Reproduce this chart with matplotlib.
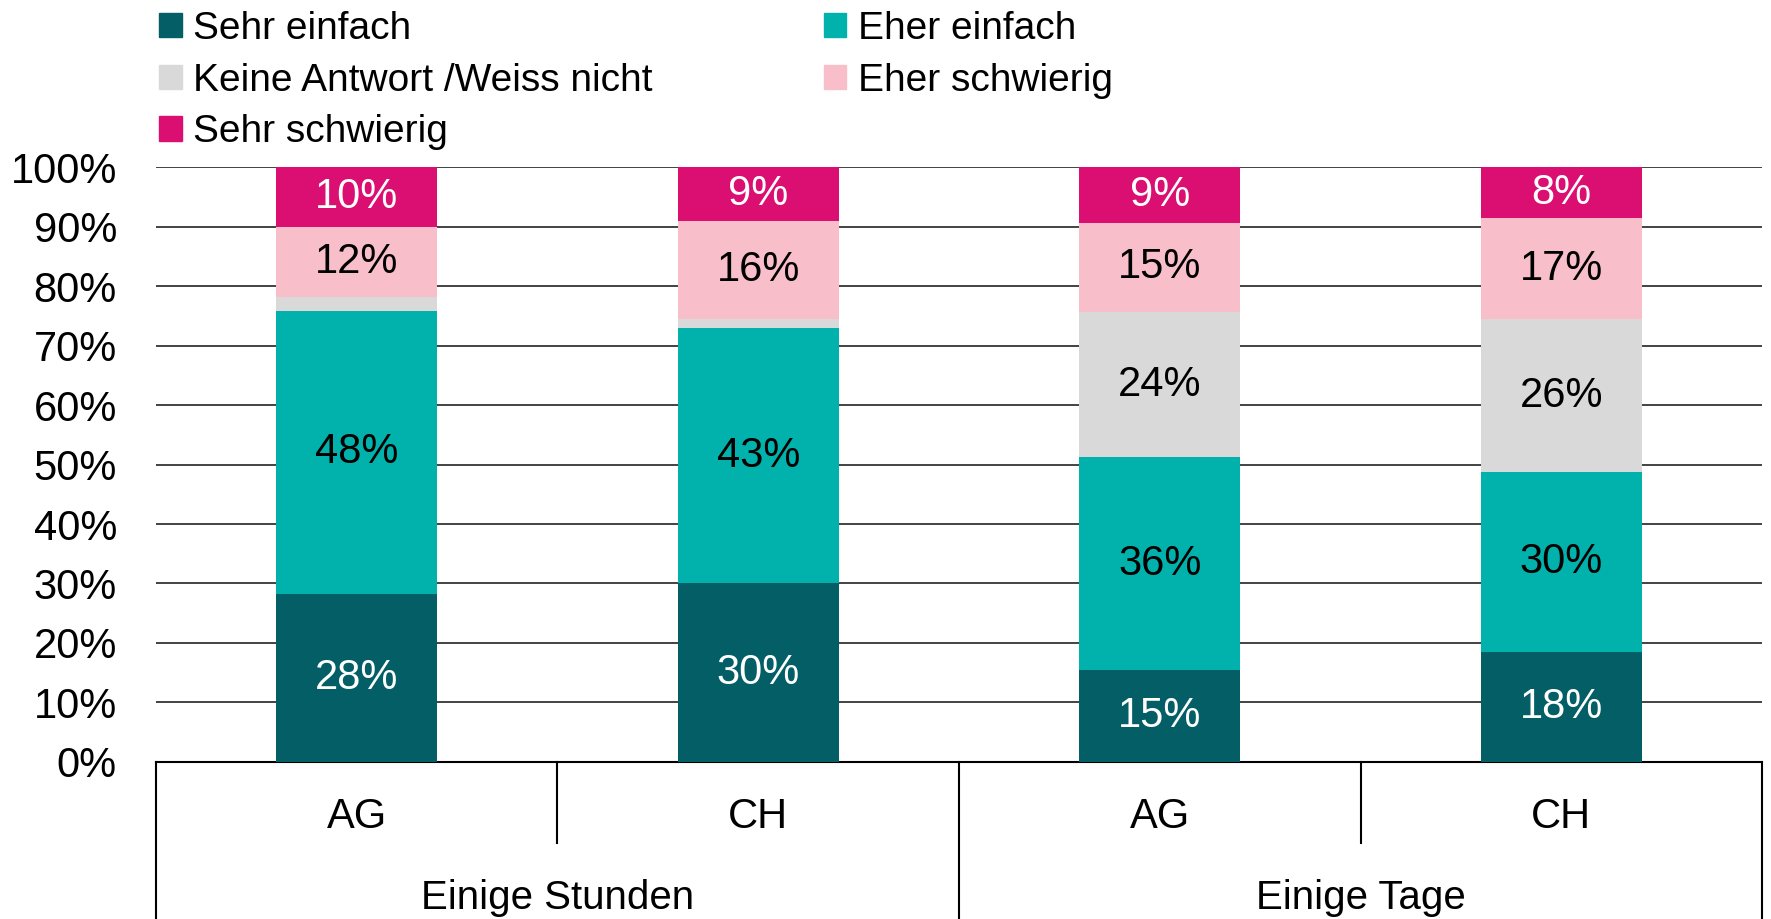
import numpy as np
import matplotlib.pyplot as plt
from matplotlib.patches import Patch
from matplotlib.transforms import blended_transform_factory

plt.rcParams['font.family'] = ['Liberation Sans', 'DejaVu Sans']

####################################################################################################
# Data (percent)

categories = ['AG', 'CH', 'AG', 'CH']
groups = ['Einige Stunden', 'Einige Tage']
series = ['Sehr einfach', 'Eher einfach', 'Keine Antwort /Weiss nicht', 'Eher schwierig', 'Sehr schwierig']

sehr_einfach   = [28.3, 30.0, 15.4, 18.4]
eher_einfach   = [47.6, 42.9, 35.8, 30.4]
keine_antwort  = [2.3, 1.5, 24.5, 25.6]
eher_schwierig = [11.7, 16.5, 14.9, 17.1]
sehr_schwierig = [10.1, 9.1, 9.4, 8.5]

colors = ['#035e66', '#00b1ac', '#d9d9d9', '#f8bfca', '#db0f71']
text_colors = ['white', 'black', 'black', 'black', 'white']

####################################################################################################

values = [sehr_einfach, eher_einfach, keine_antwort, eher_schwierig, sehr_schwierig]
x = np.arange(len(categories))
fs = 30

fig = plt.figure(figsize=(17.71, 9.19), dpi=100)
ax = fig.add_axes([0.088, 0.171, 0.907, 0.647])

bottom = np.zeros(len(categories))
handles = []
for vals, col, tcol, name in zip(values, colors, text_colors, series):
    vals = np.array(vals)
    bars = ax.bar(x, vals, bottom=bottom, width=0.4, color=col, zorder=3)
    labels = ['%d%%' % round(v) if v >= 5 else '' for v in vals]
    ax.bar_label(bars, labels=labels, label_type='center', color=tcol, fontsize=fs)
    handles.append(Patch(color=col, label=name))
    bottom += vals

ax.set_xlim(-0.5, len(categories) - 0.5)
ax.set_ylim(0, 100)
ax.set_yticks(np.arange(0, 101, 10))
ax.set_yticklabels(['%d%%' % v for v in range(0, 101, 10)], fontsize=fs)
ax.tick_params(axis='y', length=0, pad=28)
ax.yaxis.grid(True, color='#222222', linewidth=1.2, zorder=0)
ax.set_axisbelow(True)
for s in ['top', 'right', 'left']:
    ax.spines[s].set_visible(False)
ax.spines['bottom'].set_color('black')
ax.spines['bottom'].set_linewidth(1.5)

# hierarchical x axis
ax.set_xticks([])
trans = blended_transform_factory(ax.transData, ax.transAxes)
for xi, cat in zip(x, categories):
    ax.text(xi, -0.092, cat, transform=trans, ha='center', va='center', fontsize=fs)
for gi, g in enumerate(groups):
    ax.text(2 * gi + 0.5, -0.229, g, transform=trans, ha='center', va='center', fontsize=29)
for sep in np.arange(-0.5, len(categories), 1.0):
    y_end = -0.3 if (sep + 0.5) % 2 == 0 else -0.136
    ax.plot([sep, sep], [0, y_end], transform=trans, color='black', linewidth=1.5, clip_on=False)

# legend (row-major order as in the reference)
order = [0, 2, 4, 1, 3]
fig.legend([handles[i] for i in order], [series[i] for i in order], ncol=2, loc='upper left',
           bbox_to_anchor=(0.07, 1.026), frameon=False, fontsize=28, handlelength=0.58,
           handleheight=0.58, handletextpad=0.3, labelspacing=0.4, columnspacing=4.4)

plt.savefig('out.png', dpi=100)
